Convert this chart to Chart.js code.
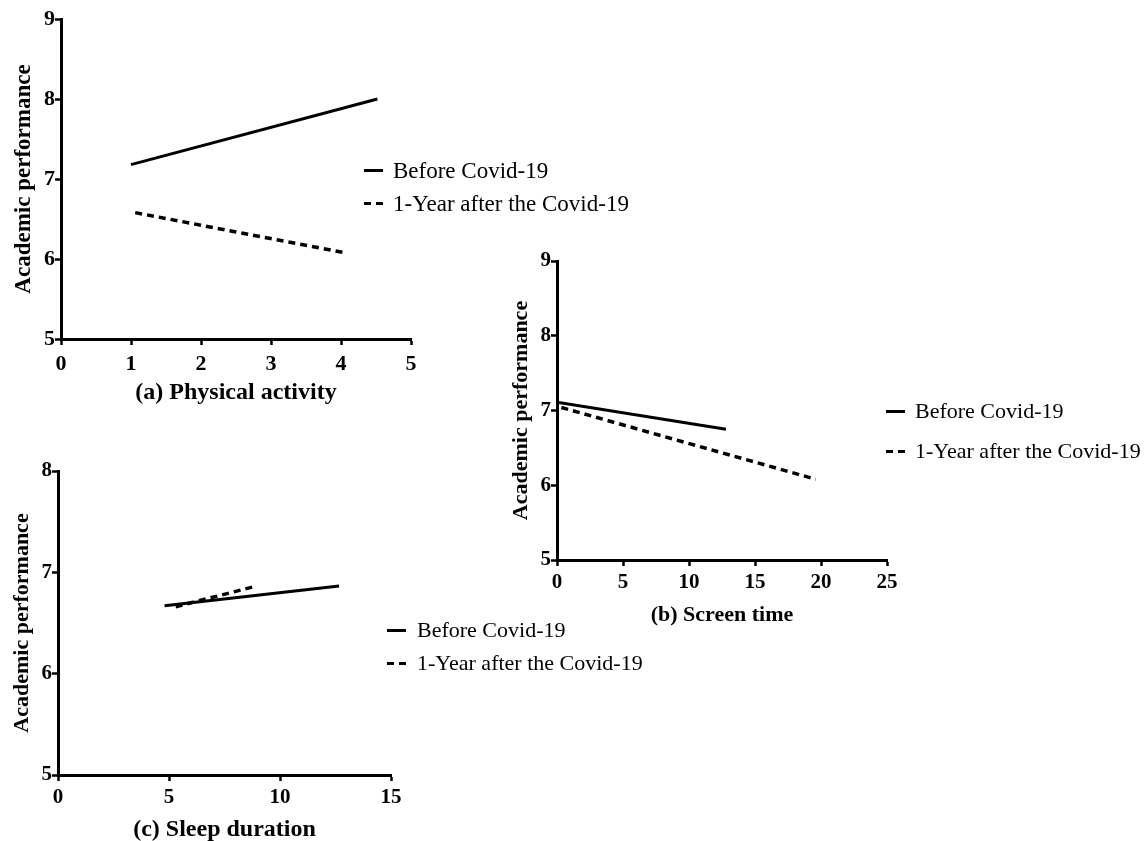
<!DOCTYPE html>
<html>
<head>
<meta charset="utf-8">
<title>Academic performance before and after Covid-19</title>
<script src="https://cdn.jsdelivr.net/npm/chart.js@4.4.1/dist/chart.umd.min.js"></script>
<style>
  body { margin: 0; background: #fff; width: 1146px; height: 841px; overflow: hidden; position: relative;
         font-family: "Liberation Serif", "Times New Roman", serif; }
  canvas { position: absolute; }
  .legend { position: absolute; color: #000; white-space: nowrap; }
  .legend .row { position: absolute; left: 0; display: flex; align-items: center; line-height: 1; }
  .swatch { display: inline-block; width: 19px; height: 3px; background: #000; }
  .swatch.dash { background: repeating-linear-gradient(to right, #000 0 7px, transparent 7px 12px); }
</style>
</head>
<body>
<canvas id="chart-a" width="440" height="420" style="left:0;top:0"></canvas>
<canvas id="chart-b" width="410" height="400" style="left:500px;top:240px"></canvas>
<canvas id="chart-c" width="420" height="400" style="left:0;top:450px"></canvas>
<div id="legend-a" class="legend"></div>
<div id="legend-b" class="legend"></div>
<div id="legend-c" class="legend"></div>

<script>
const seriesLabels = ['Before Covid-19', '1-Year after the Covid-19'];
const yTitle = 'Academic performance';

// (a) Physical activity
const physXTicks = [0, 1, 2, 3, 4, 5];
const physYTicks = [5, 6, 7, 8, 9];
const physBeforeX = [1, 4.52];
const physBeforeY = [7.18, 8.0];
const physAfterX = [1.06, 4.04];
const physAfterY = [6.58, 6.08];

// (b) Screen time
const screenXTicks = [0, 5, 10, 15, 20, 25];
const screenYTicks = [5, 6, 7, 8, 9];
const screenBeforeX = [0, 12.8];
const screenBeforeY = [7.11, 6.75];
const screenAfterX = [0.33, 19.6];
const screenAfterY = [7.04, 6.08];

// (c) Sleep duration
const sleepXTicks = [0, 5, 10, 15];
const sleepYTicks = [5, 6, 7, 8];
const sleepBeforeX = [4.8, 12.66];
const sleepBeforeY = [6.67, 6.865];
const sleepAfterX = [5.3, 8.76];
const sleepAfterY = [6.66, 6.855];

const FAMILY = '"Liberation Serif", "Times New Roman", serif';

function toPoints(xs, ys) {
    return xs.map((x, i) => ({ x: x, y: ys[i] }));
}

// build one panel; p holds the layout numbers for that panel
function makePanel(id, p) {
    const axisCommon = {
        type: 'linear',
        border: { display: true, color: '#000', width: 3 },
        grid: { display: true, drawOnChartArea: false, drawTicks: true, tickLength: 6, tickWidth: 2.5, tickColor: '#000' }
    };
    return new Chart(document.getElementById(id), {
        type: 'line',
        data: {
            datasets: [{
                label: seriesLabels[0],
                data: toPoints(p.beforeX, p.beforeY),
                borderColor: '#000',
                borderWidth: 3,
                pointRadius: 0,
                tension: 0
            }, {
                label: seriesLabels[1],
                data: toPoints(p.afterX, p.afterY),
                borderColor: '#000',
                borderWidth: 3.5,
                borderDash: [7, 5],
                pointRadius: 0,
                tension: 0
            }]
        },
        options: {
            responsive: false,
            animation: false,
            devicePixelRatio: 1,
            layout: { padding: { left: 0, top: p.padTop, right: p.padRight, bottom: 0 } },
            plugins: { legend: { display: false }, tooltip: { enabled: false } },
            scales: {
                x: Object.assign({}, axisCommon, {
                    min: p.xTicks[0],
                    max: p.xTicks[p.xTicks.length - 1],
                    afterBuildTicks: s => { s.ticks = p.xTicks.map(v => ({ value: v })); },
                    afterFit: s => { s.height = p.xHeight; },
                    ticks: { color: '#000', padding: p.xTickPad, maxRotation: 0,
                             font: { family: FAMILY, size: p.tickSize, weight: 'bold' } },
                    title: { display: true, text: p.xTitle, color: '#000',
                             padding: { top: 0, bottom: p.xTitlePad },
                             font: { family: FAMILY, size: p.xTitleSize, weight: 'bold' } }
                }),
                y: Object.assign({}, axisCommon, {
                    min: p.yTicks[0],
                    max: p.yTicks[p.yTicks.length - 1],
                    afterBuildTicks: s => { s.ticks = p.yTicks.map(v => ({ value: v })); },
                    afterFit: s => { s.width = p.yWidth; },
                    ticks: { color: '#000', padding: 0,
                             font: { family: FAMILY, size: p.tickSize, weight: 'bold' } },
                    title: { display: true, text: yTitle, color: '#000',
                             padding: { top: p.yTitlePad, bottom: 0 },
                             font: { family: FAMILY, size: p.yTitleSize, weight: 'bold' } }
                })
            }
        }
    });
}

// legend drawn as html text next to each panel
function makeLegend(id, pos) {
    const el = document.getElementById(id);
    el.style.left = pos.left + 'px';
    el.style.top = '0px';
    seriesLabels.forEach((label, i) => {
        const row = document.createElement('div');
        row.className = 'row';
        row.style.top = (pos.rows[i] - pos.size / 2) + 'px';
        row.style.fontSize = pos.size + 'px';
        row.style.height = pos.size + 'px';
        const sw = document.createElement('span');
        sw.className = i === 0 ? 'swatch' : 'swatch dash';
        sw.style.marginRight = pos.gap + 'px';
        const txt = document.createElement('span');
        txt.textContent = label;
        row.appendChild(sw);
        row.appendChild(txt);
        el.appendChild(row);
    });
}

makePanel('chart-a', {
    beforeX: physBeforeX, beforeY: physBeforeY, afterX: physAfterX, afterY: physAfterY,
    xTicks: physXTicks, yTicks: physYTicks, xTitle: '(a) Physical activity',
    padTop: 19, padRight: 29, yWidth: 61, xHeight: 81,
    tickSize: 22, xTickPad: 6, xTitleSize: 24, xTitlePad: 12.6, yTitleSize: 23, yTitlePad: 10.2
});

makePanel('chart-b', {
    beforeX: screenBeforeX, beforeY: screenBeforeY, afterX: screenAfterX, afterY: screenAfterY,
    xTicks: screenXTicks, yTicks: screenYTicks, xTitle: '(b) Screen time',
    padTop: 21, padRight: 23, yWidth: 57, xHeight: 80,
    tickSize: 21, xTickPad: 4.4, xTitleSize: 22, xTitlePad: 11.8, yTitleSize: 22, yTitlePad: 7.8
});

makePanel('chart-c', {
    beforeX: sleepBeforeX, beforeY: sleepBeforeY, afterX: sleepAfterX, afterY: sleepAfterY,
    xTicks: sleepXTicks, yTicks: sleepYTicks, xTitle: '(c) Sleep duration',
    padTop: 21, padRight: 29, yWidth: 58, xHeight: 75,
    tickSize: 21, xTickPad: 3.9, xTitleSize: 24, xTitlePad: 5.6, yTitleSize: 22, yTitlePad: 8.8
});

makeLegend('legend-a', { left: 364, rows: [170, 203.5], size: 23, gap: 10 });
makeLegend('legend-b', { left: 886, rows: [411, 451], size: 22, gap: 10 });
makeLegend('legend-c', { left: 387, rows: [630, 663], size: 22, gap: 11 });
</script>
</body>
</html>
